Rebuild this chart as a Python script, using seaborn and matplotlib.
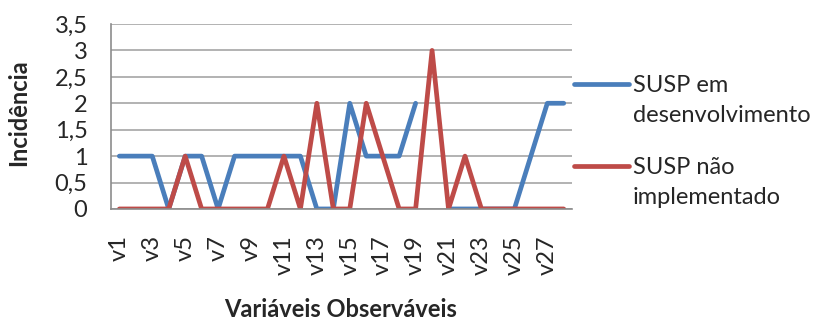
import numpy as np
import pandas as pd
import matplotlib
matplotlib.use("Agg")
import matplotlib.pyplot as plt
from matplotlib.lines import Line2D
from matplotlib.legend_handler import HandlerLine2D
import seaborn as sns

# categorias v1..v28
variaveis = [f"v{i}" for i in range(1, 29)]

# incidência por variável (None = sem valor)
susp_desenvolvimento = [1, 1, 1, 0, 1, 1, 0, 1, 1, 1, 1, 1, 0, 0, 2, 1, 1, 1, 2, None,
                        0, 0, 0, 0, 0, 1, 2, 2]
susp_nao_implementado = [0, 0, 0, 0, 1, 0, 0, 0, 0, 0, 1, 0, 2, 0, 0, 2, 1, 0, 0, 3,
                         0, 1, 0, 0, 0, 0, 0, 0]

nome_azul = "SUSP em\ndesenvolvimento"
nome_vermelho = "SUSP não\nimplementado"

# monta tabela longa; cada trecho contínuo vira uma unidade para manter a falha
linhas = []
for nome, valores in [(nome_azul, susp_desenvolvimento), (nome_vermelho, susp_nao_implementado)]:
    trecho = 0
    for i, v in enumerate(valores):
        if v is None:
            trecho += 1
            continue
        linhas.append({"pos": i, "valor": v, "serie": nome, "trecho": f"{nome}_{trecho}"})
df = pd.DataFrame(linhas)


# linha da legenda alinhada com a primeira linha do texto
class HandlerLinhaTopo(HandlerLine2D):
    def __init__(self, deslocamento, **kw):
        super().__init__(**kw)
        self.deslocamento = deslocamento

    def create_artists(self, legend, orig_handle, xdescent, ydescent, width, height, fontsize, trans):
        artistas = super().create_artists(legend, orig_handle, xdescent, ydescent,
                                          width, height, fontsize, trans)
        for a in artistas:
            a.set_ydata(np.asarray(a.get_ydata(), dtype=float) + self.deslocamento * fontsize)
        return artistas


sns.set_style("white")
plt.rcParams['font.family'] = ['Lato', 'DejaVu Sans']

fig = plt.figure(figsize=(8.23, 3.2), dpi=100)
ax = fig.add_axes([0.135, 0.347, 0.560, 0.578])

ax.yaxis.grid(True, color="#a6a6a6", linewidth=1.2)
ax.set_axisbelow(True)

sns.lineplot(data=df, x="pos", y="valor", hue="serie", units="trecho", estimator=None,
             palette={nome_azul: "#4a7ebb", nome_vermelho: "#be4b48"},
             linewidth=3.4, ax=ax)

ax.set_xlim(-0.5, 27.5)
ax.set_ylim(0, 3.5)
ax.set_yticks(np.arange(0, 3.51, 0.5))
ax.set_yticklabels([f"{t:g}".replace(".", ",") for t in np.arange(0, 3.51, 0.5)], fontsize=17)
ax.set_xticks(range(0, 28, 2))
ax.set_xticklabels(variaveis[::2], rotation=90, fontsize=17)
ax.set_xticks(np.arange(-0.5, 28, 1), minor=True)
ax.tick_params(axis="x", which="major", length=0, pad=19)
ax.tick_params(axis="x", which="minor", length=5, color="#8c8c8c", direction="out")
ax.tick_params(axis="y", length=5, color="#8c8c8c", direction="out", pad=12)

for s in ["top", "right"]:
    ax.spines[s].set_visible(False)
for s in ["left", "bottom"]:
    ax.spines[s].set_color("#8c8c8c")
    ax.spines[s].set_linewidth(1.2)

ax.set_xlabel("Variáveis Observáveis", fontsize=17, fontweight="bold")
ax.set_ylabel("Incidência", fontsize=17, fontweight="bold")
ax.xaxis.set_label_coords(0.497, -0.482)
ax.yaxis.set_label_coords(-0.175, 0.52)

handles, labels = ax.get_legend_handles_labels()
leg = ax.legend(handles, labels, loc="upper left", bbox_to_anchor=(1.0, 0.739), frameon=False,
                fontsize=17, handlelength=2.3, handletextpad=0.17, labelspacing=1.3,
                borderaxespad=0, borderpad=0.1,
                handler_map={Line2D: HandlerLinhaTopo(0.7)})
for t in leg.get_texts():
    t.set_linespacing(1.55)

fig.savefig("out.png", dpi=100)
